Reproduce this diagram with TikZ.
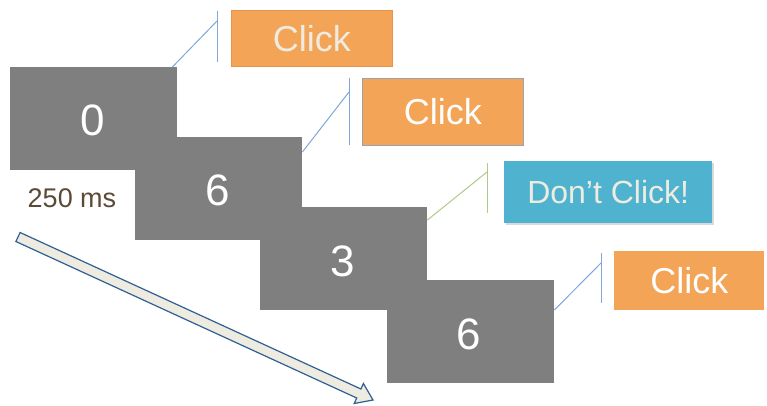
\documentclass[tikz,border=0pt]{standalone}
\usepackage{fontspec}
\usetikzlibrary{calc}
\setmainfont{Liberation Sans}
\definecolor{boxgray}{HTML}{7F7F7F}
\definecolor{clickor}{HTML}{F4A456}
\definecolor{clickedge}{HTML}{E8934A}
\definecolor{dontcyan}{HTML}{4FB3D0}
\definecolor{lightcream}{HTML}{EEECE1}
\definecolor{callblue}{HTML}{7FA7D8}
\definecolor{callgreen}{HTML}{AFC98A}
\definecolor{msbrown}{HTML}{5A4A36}
\definecolor{arrowblue}{HTML}{2F5F94}
\begin{document}
\begin{tikzpicture}[x=1pt,y=-1pt,
  graybox/.style={fill=boxgray, draw=none, minimum width=167, minimum height=103, inner sep=0, anchor=north west, text=white, font=\fontsize{44}{48}\selectfont},
  clickbox/.style={fill=clickor, draw=clickedge, line width=0.6pt, inner sep=0, anchor=north west, text=white, font=\fontsize{36}{40}\selectfont},
  dontbox/.style={fill=dontcyan, draw=none, inner sep=0, anchor=north west, text=lightcream, font=\fontsize{32}{36}\selectfont},
  callline/.style={draw=callblue, line width=1pt},
  callgline/.style={draw=callgreen, line width=1pt}]
\useasboundingbox (0,0) rectangle (767,406);
% gray stimulus boxes
\node[graybox] (b0) at (10,67) {};
\node[graybox] (b1) at (135,137) {};
\node[graybox] (b2) at (260,207) {};
\node[graybox] (b3) at (387,280) {};
\node[text=white, font=\fontsize{44}{48}\selectfont] (n0) at (93,120) {0};
\node[text=white, font=\fontsize{44}{48}\selectfont] (n1) at (218,190) {6};
\node[text=white, font=\fontsize{44}{48}\selectfont] (n2) at (343,261) {3};
\node[text=white, font=\fontsize{44}{48}\selectfont] (n3) at (469,334) {6};
% label
\node[text=msbrown, font=\fontsize{27}{30}\selectfont] (ms) at (72,198) {250 ms};
% callout boxes
\node[clickbox, minimum width=161, minimum height=56, text=lightcream] (c1) at (231,10) {Click};
\node[clickbox, draw=callblue!70!clickedge, minimum width=161, minimum height=67] (c2) at (362,78) {Click};
\fill[black!15] (506,163) rectangle (714,225);
\node[dontbox, minimum width=208, minimum height=62] (c3) at (504,161) {Don’t Click!};
\node[clickbox, draw=none, minimum width=150, minimum height=59] (c4) at (614,251) {Click};
% callout bars and leader lines
\coordinate (p1) at (217,21);
\draw[callline] (217,11) -- (217,62);
\draw[callline] ($(b0.north east)+(-5,0)$) -- (p1);
\coordinate (p2) at (349,92);
\draw[callline] (349,78) -- (349,145);
\draw[callline] ($(b1.north east)+(0,15)$) -- (p2);
\coordinate (p3) at (487,172);
\draw[callgline] (487,163) -- (487,213);
\draw[callgline] ($(b2.north east)+(0,13)$) -- (p3);
\coordinate (p4) at (601,263);
\draw[callline] (601,253) -- (601,303);
\draw[callline] ($(b3.north east)+(0,30)$) -- (p4);
% time arrow
\draw[draw=arrowblue, fill=lightcream, line width=1.2pt, line join=miter]
  (20.1,232.5) -- (360.9,389.0) -- (363.4,383.5) -- (373,400) -- (354.2,403.5) -- (356.7,398.0) -- (15.9,241.5) -- cycle;
\end{tikzpicture}
\end{document}
